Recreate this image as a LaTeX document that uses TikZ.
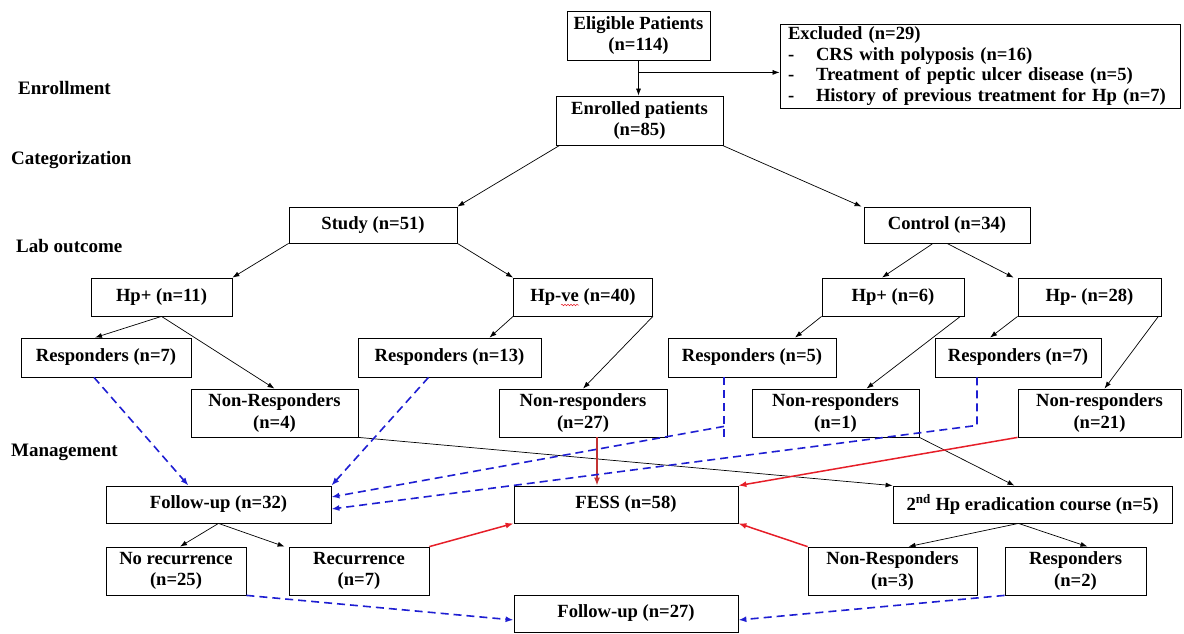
\documentclass[tikz,border=0pt]{standalone}
\usepackage{fontspec}
\setmainfont{Liberation Serif}
\usetikzlibrary{arrows.meta,decorations.pathmorphing}
\definecolor{myred}{RGB}{230,30,40}
\definecolor{mydarkred}{RGB}{195,50,50}
\definecolor{myblue}{RGB}{30,30,210}
\newcommand\bxnode[6]{\node[box,minimum width=#4pt,minimum height=#5pt] (#1) at (#2,#3) {#6};}
\begin{document}
\begin{tikzpicture}[x=1pt,y=-1pt,
  box/.style={draw, line width=0.8pt, inner sep=0pt, align=center,
    font=\bfseries\fontsize{18.6}{21.5}\selectfont},
  lab/.style={anchor=west, inner sep=0pt, font=\bfseries\fontsize{19}{21}\selectfont},
  arr/.style={-{Latex[length=7pt,width=5pt]}, line width=0.7pt},
  rarr/.style={-{Latex[length=8pt,width=6pt]}, line width=1.5pt, draw=myred},
  bdash/.style={line width=1.6pt, draw=myblue, dash pattern=on 8pt off 5pt},
  barr/.style={bdash, -{Latex[length=8pt,width=6pt]}}]
\useasboundingbox (0,0) rectangle (1184,634);
% labels
\node[lab] (l1) at (18,88) {Enrollment};
\node[lab] (l2) at (11,160) {Categorization};
\node[lab] (l3) at (16,246) {Lab outcome};
\node[lab] (l4) at (11,452) {Management};
% boxes
\bxnode{elig}{638.5}{35.5}{143}{49}{Eligible Patients\\(n=114)}
\node[box, minimum height=84pt, text width=384pt, inner xsep=8pt, align=left,
  font=\bfseries\fontsize{18.6}{20.5}\selectfont] (excl) at (980,66)
  {Excluded (n=29)\\
   \makebox[28pt][l]{-}CRS with polyposis (n=16)\\
   \makebox[28pt][l]{-}Treatment of peptic ulcer disease (n=5)\\
   \makebox[28pt][l]{-}History of previous treatment for Hp (n=7)};
\bxnode{enr}{639.5}{120.5}{167}{49}{Enrolled patients\\(n=85)}
\bxnode{study}{373}{225}{168}{36}{Study (n=51)}
\bxnode{ctrl}{947}{225}{166}{36}{Control (n=34)}
\bxnode{hp11}{161.5}{297}{141}{38}{Hp+ (n=11)}
\bxnode{hpve}{583}{297}{139}{38}{Hp-ve (n=40)}
\bxnode{hp6}{893}{297}{142}{38}{Hp+ (n=6)}
\bxnode{hpm}{1089.5}{297}{143}{38}{Hp- (n=28)}
\bxnode{r7}{106}{357.5}{170}{39}{Responders (n=7)}
\bxnode{r13}{449.5}{357.5}{183}{39}{Responders (n=13)}
\bxnode{r5}{752}{357.5}{168}{39}{Responders (n=5)}
\bxnode{r7b}{1018}{357.5}{166}{39}{Responders (n=7)}
\bxnode{nr4}{274.5}{413}{167}{48}{Non-Responders\\(n=4)}
\bxnode{nr27}{583}{413}{168}{48}{Non-responders\\(n=27)}
\bxnode{nr1}{835.5}{413}{167}{48}{Non-responders\\(n=1)}
\bxnode{nr21}{1099.5}{413}{163}{48}{Non-responders\\(n=21)}
\bxnode{fu32}{218.5}{504.5}{225}{37}{Follow-up (n=32)}
\bxnode{fess}{626}{504.5}{224}{37}{FESS (n=58)}
\bxnode{hp2}{1032.5}{504.5}{279}{37}{2\textsuperscript{nd} Hp eradication course (n=5)}
\bxnode{norec}{176}{571}{140}{48}{No recurrence\\(n=25)}
\bxnode{rec}{359}{571}{140}{48}{Recurrence\\(n=7)}
\bxnode{nr3}{892.5}{571}{169}{48}{Non-Responders\\(n=3)}
\bxnode{r2}{1075.5}{571}{141}{48}{Responders\\(n=2)}
\bxnode{fu27}{626}{613.5}{224}{37}{Follow-up (n=27)}
% spell-check squiggle
\draw[myred, line width=0.5pt, decorate, decoration={snake, amplitude=0.8pt, segment length=3pt}]
  (561,305) -- (579,305);
% black connectors
\draw[arr] (elig.south) -- (elig.south |- enr.north);
\coordinate (br) at ([yshift=-12pt]elig.south);
\draw[arr] (br) -- (br -| excl.west);
\draw[arr] ([xshift=4pt]enr.south west) -- (study.north east);
\draw[arr] ([xshift=-1pt]enr.south east) -- ([xshift=-2pt]ctrl.north west);
\draw[arr] (study.south west) -- (hp11.north east);
\draw[arr] (study.south east) -- (hpve.north west);
\draw[arr] ([xshift=-14pt]ctrl.south) -- ([xshift=-11pt]hp6.north);
\draw[arr] (ctrl.south) -- ([xshift=-4pt]hpm.north west);
\draw[arr] (hp11.south) -- ([xshift=-11pt]r7.north);
\draw[arr] (hp11.south) -- (nr4.north);
\draw[arr] (hpve.south west) -- ([xshift=40pt]r13.north);
\draw[arr] (hpve.south east) -- (nr27.north);
\draw[arr] (hp6.south west) -- ([xshift=43pt]r5.north);
\draw[arr] ([xshift=-4pt]hp6.south east) -- ([xshift=31pt]nr1.north);
\draw[arr] (hpm.south west) -- ([xshift=-28pt]r7b.north);
\draw[arr] ([xshift=-3pt]hpm.south east) -- ([xshift=5pt]nr21.north);
\draw[arr] (nr4.south east) -- (hp2.north west);
\draw[arr] (nr1.south east) -- ([xshift=-18pt]hp2.north);
\draw[arr] (fu32.south) -- ([xshift=4pt]norec.north);
\draw[arr] (fu32.south) -- ([xshift=-4pt]rec.north west);
\draw[arr] ([xshift=-14pt]hp2.south) -- ([xshift=16pt]nr3.north);
\draw[arr] ([xshift=-14pt]hp2.south) -- ([xshift=12pt]r2.north);
% red connectors
\draw[rarr, draw=mydarkred] ([xshift=14pt]nr27.south) -- ([xshift=14pt]nr27.south |- fess.north);
\draw[rarr] (nr21.south west) -- (fess.north east);
\draw[rarr] (rec.north east) -- (fess.south west);
\draw[rarr] (nr3.north west) -- (fess.south east);
% blue dashed connectors
\draw[barr] ([xshift=-12pt]r7.south) -- ([xshift=-30pt]fu32.north);
\draw[barr] ([xshift=-21pt]r13.south) -- (fu32.north east);
\draw[bdash] ([xshift=-28pt]r5.south) -- ++(0,60);
\draw[barr] ([xshift=-28pt]r5.south) ++(0,49) -- ([yshift=7.5pt]fu32.east);
\draw[barr] ([xshift=-41pt]r7b.south) -- ++(0,48) -- ([yshift=-4.5pt]fu32.east);
\draw[barr] (norec.south east) -- ([yshift=-6.5pt]fu27.west);
\draw[barr] (r2.south west) -- ([yshift=-6.5pt]fu27.east);
\end{tikzpicture}
\end{document}
